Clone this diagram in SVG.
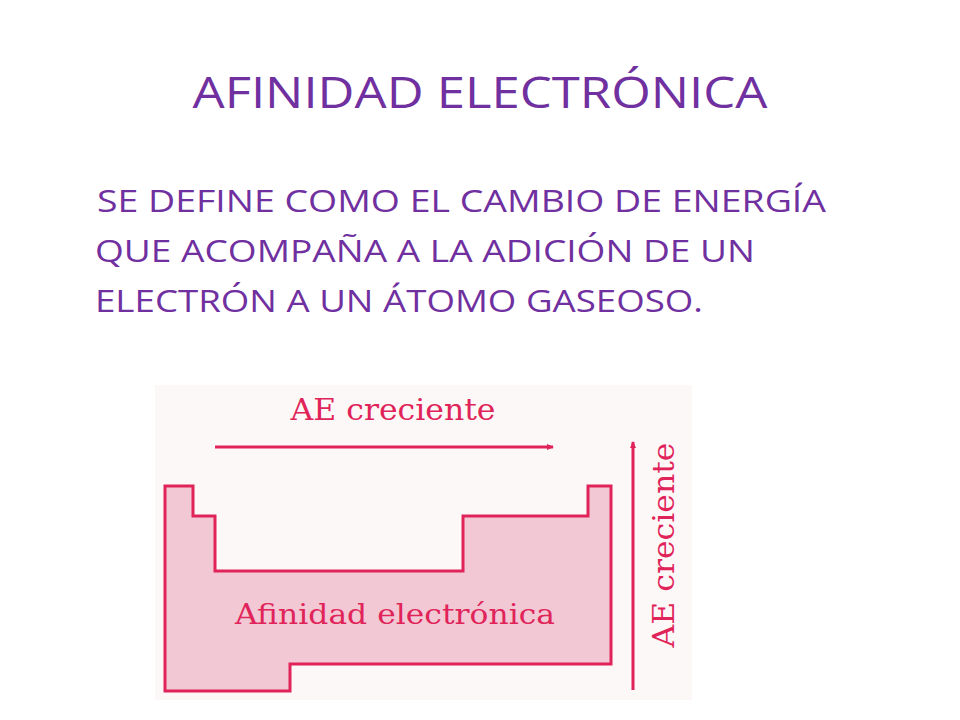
<svg xmlns="http://www.w3.org/2000/svg" width="960" height="720" viewBox="0 0 960 720">
<style>
.t{font-family:"Open Sans","Liberation Sans",sans-serif;fill:#7030a0}
.p{font-family:"DejaVu Serif","Liberation Serif",serif;fill:#e0245a}
</style>
<defs><marker id="ah" markerWidth="8" markerHeight="8" refX="6" refY="4" orient="auto" markerUnits="userSpaceOnUse"><path d="M0,1 L7,4 L0,7 Z" fill="#e0245a"/></marker></defs>
<rect width="960" height="720" fill="#fff"/>
<text class="t" x="480" y="108" font-size="44" text-anchor="middle" textLength="575" lengthAdjust="spacingAndGlyphs">AFINIDAD ELECTRÓNICA</text>
<g class="t" font-size="31">
<text x="97" y="212" textLength="729" lengthAdjust="spacingAndGlyphs">SE DEFINE COMO EL CAMBIO DE ENERGÍA</text>
<text x="95" y="262" textLength="660" lengthAdjust="spacingAndGlyphs">QUE ACOMPAÑA A LA ADICIÓN DE UN</text>
<text x="95" y="312" textLength="608" lengthAdjust="spacingAndGlyphs">ELECTRÓN A UN ÁTOMO GASEOSO.</text>
</g>
<rect x="155" y="385" width="537" height="315" fill="#fdf8f8"/>
<g id="tabla">
<path d="M165,486 H193 V516 H215 V571 H463 V516 H588 V486 H611 V664 H290 V691 H165 Z" fill="#f2c8d4" stroke="#e0245a" stroke-width="3"/>
<text class="p" x="395" y="624" font-size="27" text-anchor="middle" textLength="320" lengthAdjust="spacingAndGlyphs">Afinidad electrónica</text>
</g>
<g id="connectors" stroke="#e0245a" stroke-width="3" fill="none">
<line x1="215" y1="447" x2="553" y2="447" marker-end="url(#ah)"/>
<line x1="633" y1="690" x2="633" y2="442" marker-end="url(#ah)"/>
</g>
<text class="p" x="393" y="420" font-size="30" text-anchor="middle" textLength="205" lengthAdjust="spacingAndGlyphs">AE creciente</text>
<text class="p" transform="translate(674,545) rotate(-90)" x="0" y="0" font-size="30" text-anchor="middle" textLength="205" lengthAdjust="spacingAndGlyphs">AE creciente</text>
</svg>
